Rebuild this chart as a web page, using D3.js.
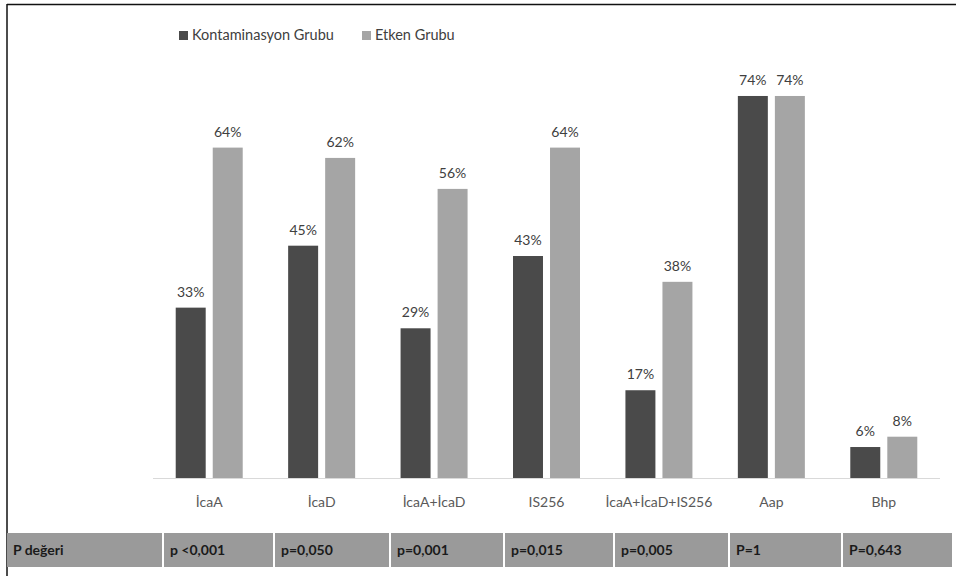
<!DOCTYPE html>
<html>
<head>
<meta charset="utf-8">
<script src="https://cdn.jsdelivr.net/npm/d3@7"></script>
<style>
  body { margin: 0; background: #fff; }
  text { font-family: Lato, "Open Sans", sans-serif; }
</style>
</head>
<body>
<script>
const categories = ["İcaA", "İcaD", "İcaA+İcaD", "IS256", "İcaA+İcaD+IS256", "Aap", "Bhp"];
const kontaminasyon = [33, 45, 29, 43, 17, 74, 6];
const etken = [64, 62, 56, 64, 38, 74, 8];
const pLabels = ["p <0,001", "p=0,050", "p=0,001", "p=0,015", "p=0,005", "P=1", "P=0,643"];
const seriesNames = ["Kontaminasyon Grubu", "Etken Grubu"];
const colors = ["#4a4a4a", "#a5a5a5"];

const width = 956, height = 576;
const svg = d3.select('body').append('svg')
    .attr('width', width)
    .attr('height', height);

// frame (top and left edges only show)
svg.append('line').attr('x1', 7).attr('x2', width).attr('y1', 4.5).attr('y2', 4.5)
    .attr('stroke', '#111').attr('stroke-width', 1.5);
svg.append('line').attr('x1', 7).attr('x2', 7).attr('y1', 4).attr('y2', height)
    .attr('stroke', '#111').attr('stroke-width', 1.5);

const x0 = d3.scaleBand()
    .domain(categories)
    .range([153, 940]);

const x1 = d3.scaleBand()
    .domain([0, 1])
    .range([x0.bandwidth() / 2 - 33.5, x0.bandwidth() / 2 + 33.5])
    .paddingInner(0.19);

const y = d3.scaleLinear()
    .domain([0, 80])
    .range([478, 65]);

const data = categories.map((c, i) => ({ cat: c, vals: [kontaminasyon[i], etken[i]] }));

// baseline
svg.append('line')
    .attr('x1', 153).attr('x2', 940)
    .attr('y1', y(0) + 0.5).attr('y2', y(0) + 0.5)
    .attr('stroke', '#d9d9d9').attr('stroke-width', 1);

const groups = svg.selectAll('g.grp')
    .data(data)
    .enter()
    .append('g')
    .attr('class', 'grp')
    .attr('transform', d => 'translate(' + x0(d.cat) + ',0)');

groups.selectAll('rect')
    .data(d => d.vals)
    .enter()
    .append('rect')
    .attr('x', (v, j) => x1(j))
    .attr('width', x1.bandwidth())
    .attr('y', v => y(v))
    .attr('height', v => y(0) - y(v))
    .attr('fill', (v, j) => colors[j]);

groups.selectAll('text.val')
    .data(d => d.vals)
    .enter()
    .append('text')
    .attr('class', 'val')
    .attr('x', (v, j) => x1(j) + x1.bandwidth() / 2)
    .attr('y', v => y(v) - 11)
    .attr('text-anchor', 'middle')
    .attr('font-size', 14)
    .attr('fill', '#404040')
    .text(v => v + '%');

// category labels
svg.selectAll('text.cat')
    .data(categories)
    .enter()
    .append('text')
    .attr('class', 'cat')
    .attr('x', d => x0(d) + x0.bandwidth() / 2)
    .attr('y', 507)
    .attr('text-anchor', 'middle')
    .attr('font-size', 14)
    .attr('fill', '#595959')
    .text(d => d);

// legend
const legendX = [179, 362];
seriesNames.forEach((name, i) => {
    svg.append('rect')
        .attr('x', legendX[i]).attr('y', 31)
        .attr('width', 9).attr('height', 9)
        .attr('fill', colors[i]);
    svg.append('text')
        .attr('x', legendX[i] + 13).attr('y', 40)
        .attr('font-size', 14.5)
        .attr('fill', '#404040')
        .text(name);
});

// p-value row
const cellEdges = [7, 164, 275, 391, 505, 615, 730, 843, 954];
const rowLabels = ["P değeri"].concat(pLabels);
const row = svg.selectAll('g.cell')
    .data(rowLabels)
    .enter()
    .append('g')
    .attr('class', 'cell');

row.append('rect')
    .attr('x', (d, i) => cellEdges[i])
    .attr('y', 533)
    .attr('width', (d, i) => cellEdges[i + 1] - cellEdges[i] - 2)
    .attr('height', 34)
    .attr('fill', '#9a9a9a');

row.append('text')
    .attr('x', (d, i) => cellEdges[i] + 6)
    .attr('y', 555)
    .attr('font-size', 14)
    .attr('font-weight', 'bold')
    .attr('fill', '#1a1a1a')
    .text(d => d);
</script>
</body>
</html>
